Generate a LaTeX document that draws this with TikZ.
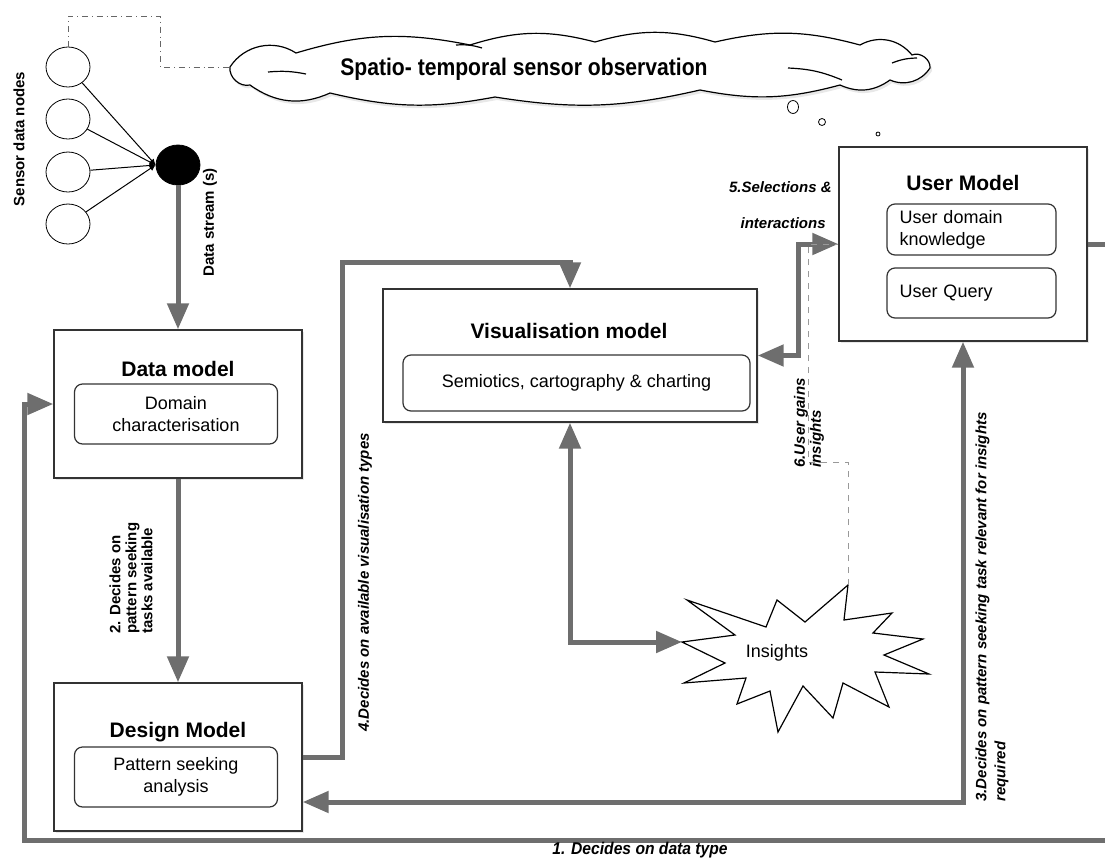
\documentclass[tikz,border=0pt]{standalone}
\usepackage{fontspec}
\setmainfont{Liberation Sans}
\newfontfamily\narrowfont[FakeStretch=0.88]{Liberation Sans}
\newfontfamily\labelfont[FakeStretch=0.92]{Liberation Sans}
\usetikzlibrary{arrows.meta,positioning,shapes.geometric,shadows}

\begin{document}
\begin{tikzpicture}[x=0.5pt,y=-0.5pt,
  box/.style={draw=black!80,fill=white,line width=0.7pt,inner sep=0pt,
    drop shadow={shadow xshift=1pt,shadow yshift=-1.2pt,opacity=0.18}},
  inbox/.style={draw=black!80,rounded corners=4pt,line width=0.6pt,align=center,
    inner sep=0pt,font=\fontsize{9}{11}\selectfont},
  title/.style={font=\fontsize{10.5}{12}\selectfont\bfseries},
  flow/.style={draw=black!57,line width=2.5pt,>={Triangle[length=13pt,width=10.5pt]}},
  lbl/.style={font=\fontsize{7.5}{8}\selectfont\bfseries\itshape,inner sep=0pt},
  sensor/.style={draw,ellipse,minimum width=22pt,minimum height=20pt,inner sep=0pt},
  bubble/.style={draw,ellipse,inner sep=0pt}]
  \useasboundingbox (0,0) rectangle (1105,858);

  % sensors and data stream
  \node[sensor] (s1) at (68,67)  {};
  \node[sensor] (s2) at (68,119) {};
  \node[sensor] (s3) at (68,172) {};
  \node[sensor] (s4) at (68,224) {};
  \node[sensor,fill=black] (dot) at (178,165) {};
  \path[->,>={Latex[length=3pt,width=3pt]},line width=0.5pt]
        (s1) edge (dot.west)
        (s2) edge (dot.west)
        (s3) edge (dot.west)
        (s4) edge (dot.west);
  \node[lbl,font=\fontsize{7.5}{8}\selectfont\bfseries,rotate=90] (sdn) at (19,139) {Sensor data nodes};
  \node[lbl,font=\fontsize{7.5}{8}\selectfont\bfseries,rotate=90,anchor=west] (dst) at (210,277) {Data stream (s)};

  % observation cloud
  \draw[fill=white,line width=0.6pt,drop shadow={shadow xshift=1pt,shadow yshift=-1.5pt,opacity=0.18}]
    (230,67) to[bend left=45] (296,53) to[bend left=14] (470,45) to[bend left=16] (595,42)
    to[bend left=16] (715,42) to[bend left=14] (860,45) to[bend left=40] (912,55)
    to[bend left=60] (930,68) to[bend left=40] (890,80) to[bend left=30] (840,85)
    to[bend left=13] (700,90) to[bend left=11] (495,97) to[bend left=12] (330,93)
    to[bend left=30] (250,85) to[bend left=55] (230,67) -- cycle;
  \draw[line width=0.6pt] (268,72) to[bend left=8] (306,74)
    (456,45) to[bend left=10] (482,48)
    (788,68) to[bend left=10] (842,80)
    (892,63) to[bend left=10] (917,58);
  \node[font=\narrowfont\fontsize{12}{13}\selectfont\bfseries] (clt) at (524,69) {Spatio- temporal sensor observation};
  \node[bubble,minimum width=5.5pt,minimum height=6.5pt] (b1) at (793,107) {};
  \node[bubble,minimum width=3.5pt,minimum height=3.5pt] (b2) at (822,122) {};
  \node[bubble,minimum width=2pt,minimum height=2pt] (b3) at (878,134) {};
  \coordinate (c0) at (160,16);
  \coordinate (clw) at (230,67);
  \draw[dash dot,black!60,line width=0.5pt] (s1.north) |- (c0) |- (clw);

  % models
  \node[box,minimum width=124pt,minimum height=74pt] (dm) at (178,404) {};
  \node[title] (dmt) at (178,369) {Data model};
  \node[inbox,minimum width=101.5pt,minimum height=30pt] (dmi) at (176,414) {Domain\\characterisation};

  \node[box,minimum width=124pt,minimum height=74pt] (dsm) at (178,757) {};
  \node[title] (dsmt) at (178,732) {Design Model};
  \node[inbox,minimum width=101.5pt,minimum height=30pt] (dsmi) at (176,777) {Pattern seeking\\analysis};

  \node[box,minimum width=187pt,minimum height=66.5pt] (vm) at (570,355.5) {};
  \node[title] (vmt) at (569,331) {Visualisation model};
  \node[inbox,minimum width=173.5pt,minimum height=28pt] (vmi) at (576.5,383) {Semiotics, cartography \& charting};

  \node[box,minimum width=124pt,minimum height=97pt] (um) at (963,244) {};
  \node[title] (umt) at (963,183) {User Model};
  \node[inbox,minimum width=84.5pt,minimum height=25.5pt,align=left,text width=72pt] (umi) at (971.5,229.5) {User domain\\knowledge};
  \node[inbox,minimum width=84.5pt,minimum height=25pt,align=left,text width=72pt] (umq) at (971.5,293) {User Query};

  % insights
  \draw[fill=white,line width=0.6pt] (682,642) -- (735,635) -- (687,600) -- (766,627) -- (777,600)
    -- (805,622) -- (848,585) -- (844,620) -- (892,613) -- (873,633) -- (923,639) -- (884,655)
    -- (929,674) -- (875,672) -- (889,707) -- (843,683) -- (833,718) -- (803,686) -- (778,732)
    -- (770,691) -- (737,704) -- (746,678) -- (684,683) -- (725,663) -- cycle;
  \node[font=\fontsize{9}{11}\selectfont] (ins) at (777,653) {Insights};
  \coordinate (insL) at (682,642);
  \coordinate (insT) at (848,585);

  % connectors
  \coordinate (c1a) at (1130,244);
  \coordinate (c1b) at (24,840);
  \coordinate (c3) at (963,802);
  \coordinate (c4) at (342,262);
  \coordinate (c6) at (808,462);
  \draw[flow,->] (dot) -- (dm.north);
  \draw[flow,->] (dm.south) -- (dsm.north);
  \draw[flow,->] (um.east) -- (c1a) |- (c1b) |- (dm.west);
  \draw[flow,<->] (dsm.east |- c3) -- (c3) -- (um.south);
  \draw[flow,->] (dsm.east) -| (c4) -| (vm.north);
  \draw[flow,<->] (vm.east) -- ++(41,0) |- (um.west);
  \draw[flow,<->] (vm.south) |- (insL);
  \draw[dashed,black!40,line width=0.5pt] (insT) |- (c6) |- (um.west);

  % labels
  \node[lbl,font=\labelfont\fontsize{8.5}{9}\selectfont\bfseries\itshape] (l1) at (640,850) {1. Decides on data type};
  \node[lbl,font=\fontsize{7.5}{8}\selectfont\bfseries,rotate=90,anchor=west,align=left] (l2) at (131,634) {2. Decides on\\pattern seeking\\tasks available};
  \node[lbl,rotate=90,anchor=west,align=left,font=\fontsize{7.5}{9.5}\selectfont\bfseries\itshape] (l3) at (992,802) {3.Decides on pattern seeking task relevant for insights\\required};
  \node[lbl,rotate=90,anchor=west] (l4) at (365,732) {4.Decides on available visualisation types};
  \node[lbl,anchor=east] (l5a) at (832,187) {5.Selections \&};
  \node[lbl,anchor=east] (l5b) at (826,223) {interactions};
  \node[lbl,rotate=90,anchor=west,align=left] (l6) at (809,468) {6.User gains\\insights};
\end{tikzpicture}
\end{document}
